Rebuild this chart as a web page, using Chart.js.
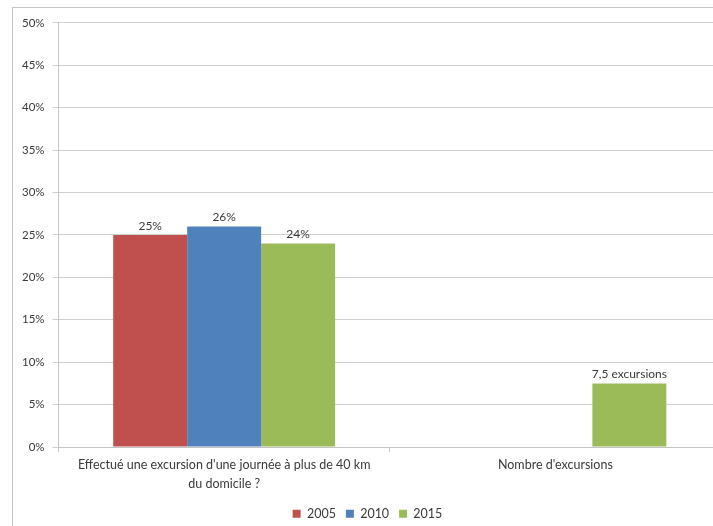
<!DOCTYPE html>
<html>
<head>
<meta charset="utf-8">
<script src="https://cdn.jsdelivr.net/npm/chart.js@4.4.0/dist/chart.umd.min.js"></script>
<style>
  html, body { margin: 0; padding: 0; background: #fff; overflow: hidden; }
  #box {
    position: absolute; left: 12px; top: 7px;
    width: 712px; height: 530px;
    border: 1px solid #c4c4c4; background: #fff;
  }
  #box canvas { display: block; }
</style>
</head>
<body>
<div id="box"><canvas id="chart" width="712" height="530"></canvas></div>
<script>
// categories and series
const categories = [
  ["Effectué une excursion d'une journée à plus de 40 km", 'du domicile ?'],
  "Nombre d'excursions",
]
const serie2005 = [25, null]
const serie2010 = [26, null]
const serie2015 = [24, 7.5]
// unit shown after each value in the bar labels, per category
const valueUnits = ['%', ' excursions']
const yTicks = [0, 5, 10, 15, 20, 25, 30, 35, 40, 45, 50]

const font = 'Lato, "Liberation Sans", sans-serif'
const textColor = '#3a3a3a'

// writes the value above each bar
const barLabels = {
  id: 'barLabels',
  afterDatasetsDraw(chart) {
    const ctx = chart.ctx
    ctx.save()
    ctx.font = '12px ' + font
    ctx.fillStyle = textColor
    ctx.textAlign = 'center'
    ctx.textBaseline = 'bottom'
    chart.data.datasets.forEach((ds, i) => {
      chart.getDatasetMeta(i).data.forEach((bar, j) => {
        const v = ds.data[j]
        if (v == null) return
        const txt = String(v).replace('.', ',') + valueUnits[j]
        ctx.fillText(txt, bar.x, bar.y - 3)
      })
    })
    ctx.restore()
  },
}

const ctx = document.getElementById('chart').getContext('2d')
new Chart(ctx, {
  type: 'bar',
  data: {
    labels: categories,
    datasets: [
      { label: '2005', data: serie2005, backgroundColor: '#c0504d' },
      { label: '2010', data: serie2010, backgroundColor: '#4f81bd' },
      { label: '2015', data: serie2015, backgroundColor: '#9bbb59' },
    ],
  },
  options: {
    responsive: false,
    animation: false,
    layout: { padding: { top: 6, right: 4, left: 1, bottom: 8 } },
    datasets: {
      bar: { categoryPercentage: 0.67, barPercentage: 1.0 },
    },
    scales: {
      x: {
        grid: {
          display: true,
          drawOnChartArea: false,
          offset: true,
          color: '#c4c4c4',
          tickLength: 5,
        },
        border: { color: '#c4c4c4' },
        ticks: {
          color: textColor,
          font: { family: font, size: 12.5, lineHeight: 1.5 },
          maxRotation: 0,
          padding: 4,
        },
      },
      y: {
        min: 0,
        max: 50,
        afterBuildTicks: (axis) => { axis.ticks = yTicks.map(v => ({ value: v })) },
        grid: { color: '#d0d0d0', tickLength: 6 },
        border: { color: '#c4c4c4' },
        ticks: {
          color: textColor,
          font: { family: font, size: 11.5 },
          padding: 8,
          callback: (v) => v + '%',
        },
      },
    },
    plugins: {
      legend: {
        position: 'bottom',
        labels: {
          boxWidth: 8,
          boxHeight: 8,
          color: textColor,
          font: { family: font, size: 12.5 },
          padding: 10,
        },
      },
      tooltip: { enabled: false },
    },
  },
  plugins: [barLabels],
})
</script>
</body>
</html>
